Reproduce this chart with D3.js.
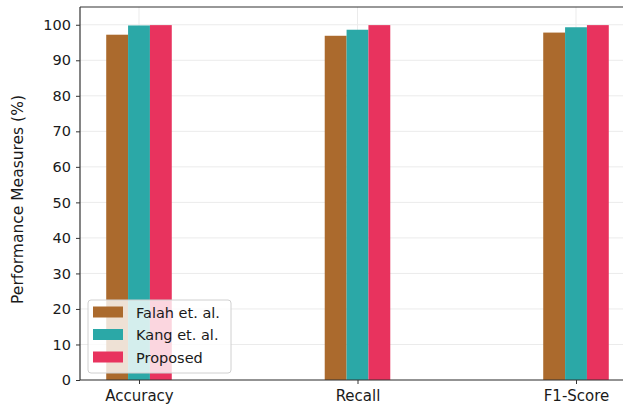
<!DOCTYPE html>
<html>
<head>
<meta charset="utf-8">
<script src="https://cdn.jsdelivr.net/npm/d3@7"></script>
<style>
  html, body { margin: 0; padding: 0; background: #fff; }
  svg { display: block; font-family: "DejaVu Sans", sans-serif; }
</style>
</head>
<body>
<svg id="chart" width="623" height="408"></svg>
<script>
// Metrics on the x axis
const categories = ["Accuracy", "Recall", "F1-Score"];
// Series names (legend order)
const seriesNames = ["Falah et. al.", "Kang et. al.", "Proposed"];
// Values per series, one per metric (%)
const falahValues = [97.2, 96.9, 97.8];
const kangValues = [99.8, 98.6, 99.3];
const proposedValues = [99.9, 99.9, 99.9];
// Y tick labels
const yTicks = [0, 10, 20, 30, 40, 50, 60, 70, 80, 90, 100];

const seriesValues = [falahValues, kangValues, proposedValues];
const colors = ["#ab6a2d", "#2ba8a7", "#e8335e"];

const svg = d3.select("#chart");
const margin = { left: 80, top: 7, bottom: 380 };
const plotRight = 635; // plot continues past the right edge of the canvas

// Linear positions: category i at i, bars of width 0.1 each
const x = d3.scaleLinear().domain([-0.27, 2.27]).range([margin.left, plotRight]);
const y = d3.scaleLinear().domain([0, 105]).range([margin.bottom, margin.top]);
const barW = 0.1;

const g = svg.append("g");

// Grid
g.append("g").selectAll("line.hg").data(yTicks).join("line")
  .attr("x1", margin.left).attr("x2", plotRight)
  .attr("y1", d => y(d)).attr("y2", d => y(d))
  .attr("stroke", "#ebebeb").attr("stroke-width", 1);
g.append("g").selectAll("line.vg").data(categories).join("line")
  .attr("x1", (d, i) => x(i)).attr("x2", (d, i) => x(i))
  .attr("y1", margin.top).attr("y2", margin.bottom)
  .attr("stroke", "#ebebeb").attr("stroke-width", 1);

// Bars
seriesValues.forEach((vals, s) => {
  g.append("g").selectAll("rect").data(vals).join("rect")
    .attr("x", (d, i) => x(i + (s - 1) * barW - barW / 2))
    .attr("width", x(barW) - x(0))
    .attr("y", d => y(d))
    .attr("height", d => y(0) - y(d))
    .attr("fill", colors[s]);
});

// Axes
const yAxis = d3.axisLeft(y).tickValues(yTicks).tickSize(4).tickPadding(5);
const yg = svg.append("g").attr("transform", `translate(${margin.left},0)`).call(yAxis);
yg.select(".domain").attr("d", `M0,${margin.top}V${margin.bottom}`).attr("stroke", "#333").attr("stroke-width", 1.2);
yg.selectAll(".tick line").attr("stroke", "#333");
yg.selectAll(".tick text").attr("font-size", 14.5).attr("fill", "#1a1a1a").attr("font-family", "DejaVu Sans, sans-serif");

const xAxis = d3.axisBottom(x).tickValues([0, 1, 2]).tickFormat(i => categories[i]).tickSize(4).tickPadding(6);
const xg = svg.append("g").attr("transform", `translate(0,${margin.bottom})`).call(xAxis);
xg.select(".domain").attr("d", `M${margin.left},0H${plotRight}`).attr("stroke", "#333").attr("stroke-width", 1.2);
xg.selectAll(".tick line").attr("stroke", "#333");
xg.selectAll(".tick text").attr("font-size", 15).attr("fill", "#1a1a1a").attr("font-family", "DejaVu Sans, sans-serif");

// Top spine
svg.append("line").attr("x1", margin.left).attr("x2", plotRight)
  .attr("y1", margin.top).attr("y2", margin.top)
  .attr("stroke", "#333").attr("stroke-width", 1.2);

// Y axis title
svg.append("text")
  .attr("transform", `translate(23,${(margin.top + margin.bottom) / 2 + 6}) rotate(-90)`)
  .attr("text-anchor", "middle")
  .attr("font-size", 15.5).attr("fill", "#1a1a1a")
  .text("Performance Measures (%)");

// Legend
const leg = svg.append("g").attr("transform", "translate(88,300)");
leg.append("rect").attr("width", 143).attr("height", 73).attr("rx", 3)
  .attr("fill", "rgba(255,255,255,0.8)").attr("stroke", "#d0d0d0");
seriesNames.forEach((name, s) => {
  const row = leg.append("g").attr("transform", `translate(5,${12 + s * 22.5})`);
  row.append("rect").attr("x", 0).attr("y", -5.5).attr("width", 30).attr("height", 11).attr("fill", colors[s]);
  row.append("text").attr("x", 43).attr("y", 5.5).attr("font-size", 14.5).attr("fill", "#1a1a1a").text(name);
});
</script>
</body>
</html>
